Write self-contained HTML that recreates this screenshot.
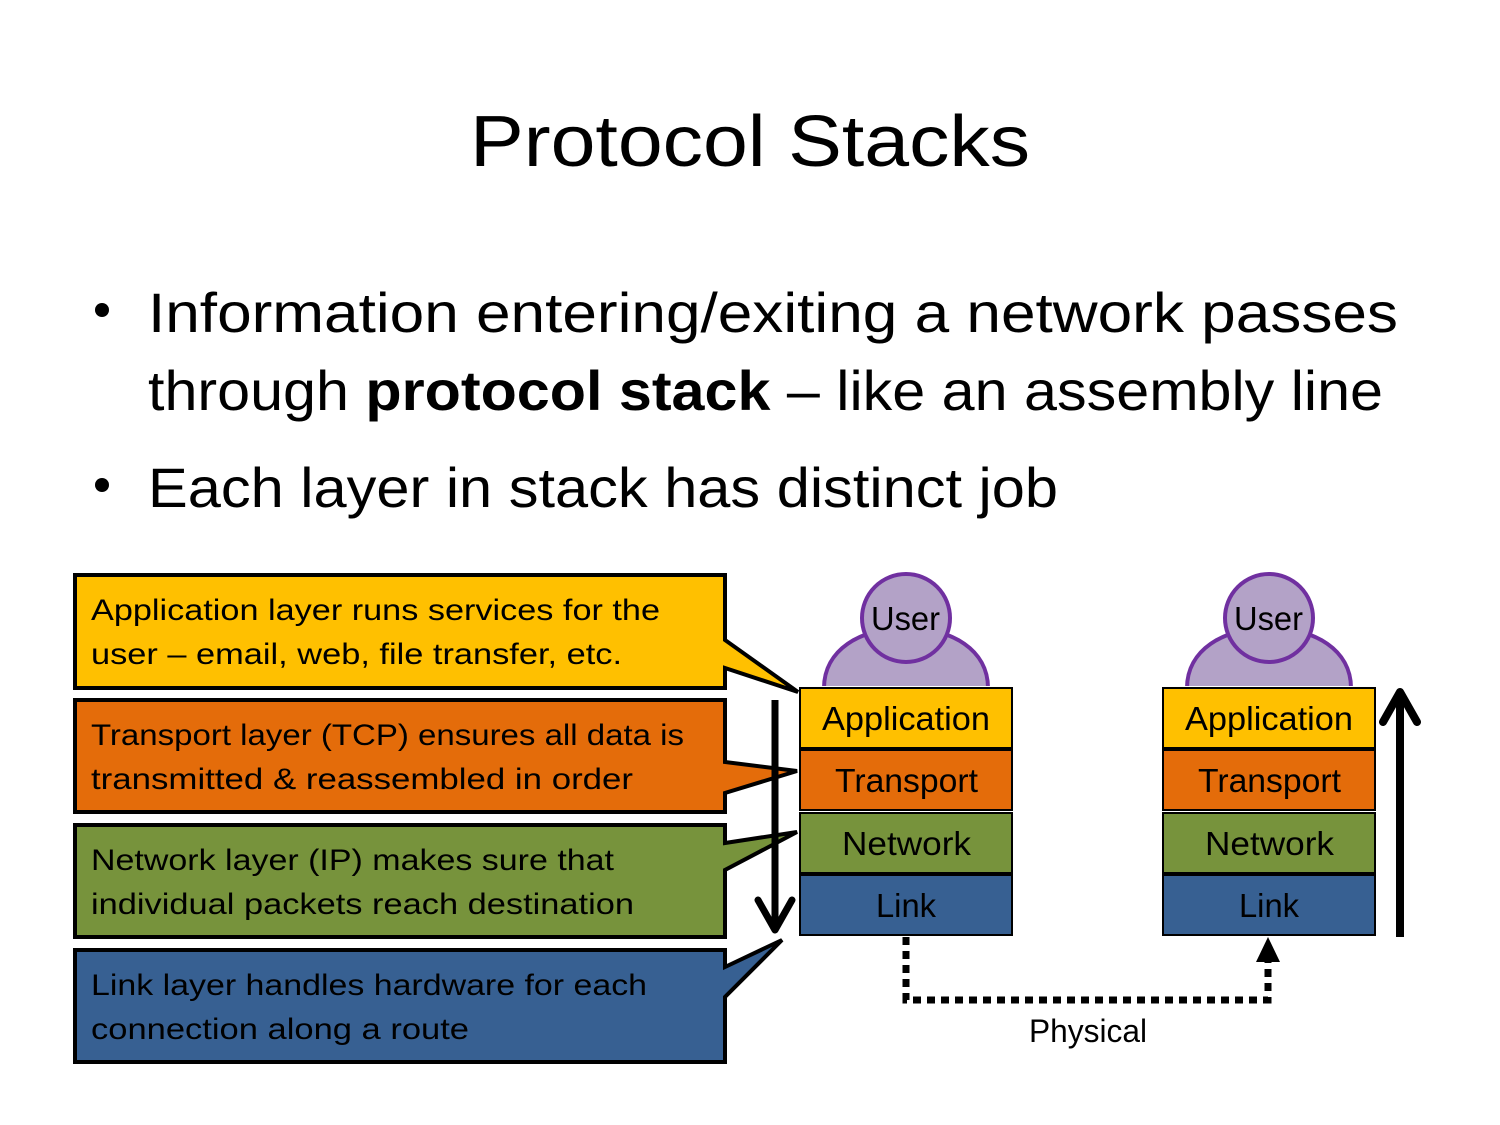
<!DOCTYPE html>
<html><head><meta charset="utf-8"><style>html,body{margin:0;padding:0;background:#fff}svg{display:block}</style></head>
<body>
<svg width="1500" height="1125" viewBox="0 0 1500 1125" xmlns="http://www.w3.org/2000/svg" font-family="'Liberation Sans', sans-serif">
<rect width="1500" height="1125" fill="#fff"/>
<text x="470" y="166" font-size="72" textLength="560" lengthAdjust="spacingAndGlyphs">Protocol Stacks</text>
<circle cx="102" cy="310" r="7" fill="#000"/>
<circle cx="102" cy="485" r="7" fill="#000"/>
<text x="148" y="332" font-size="56" textLength="1250" lengthAdjust="spacingAndGlyphs">Information entering/exiting a network passes</text>
<text x="148" y="410" font-size="56" textLength="1235" lengthAdjust="spacingAndGlyphs">through <tspan font-weight="bold">protocol stack</tspan> – like an assembly line</text>
<text x="148" y="507" font-size="56" textLength="910" lengthAdjust="spacingAndGlyphs">Each layer in stack has distinct job</text>

<g stroke="#000" stroke-width="4" stroke-linejoin="miter">
<path d="M75 575 H725 V640 L798 692 L725 668 V688 H75 Z" fill="#FFC000"/>
<path d="M75 700 H725 V762 L797 771 L725 793 V812 H75 Z" fill="#E46C0A"/>
<path d="M75 825 H725 V843 L797 832 L725 870 V937 H75 Z" fill="#77933C"/>
<path d="M75 950 H725 V967 L782 940 L725 997 V1062 H75 Z" fill="#376092"/>
</g>
<g font-size="30" fill="#000">
<text x="91" y="620" textLength="569" lengthAdjust="spacingAndGlyphs">Application layer runs services for the</text>
<text x="91" y="664" textLength="531" lengthAdjust="spacingAndGlyphs">user – email, web, file transfer, etc.</text>
<text x="91" y="745" textLength="593" lengthAdjust="spacingAndGlyphs">Transport layer (TCP) ensures all data is</text>
<text x="91" y="789" textLength="542" lengthAdjust="spacingAndGlyphs">transmitted &amp; reassembled in order</text>
<text x="91" y="870" textLength="523" lengthAdjust="spacingAndGlyphs">Network layer (IP) makes sure that</text>
<text x="91" y="914" textLength="543" lengthAdjust="spacingAndGlyphs">individual packets reach destination</text>
<text x="91" y="995" textLength="556" lengthAdjust="spacingAndGlyphs">Link layer handles hardware for each</text>
<text x="91" y="1039" textLength="378" lengthAdjust="spacingAndGlyphs">connection along a route</text>
</g>

<line x1="775" y1="700" x2="775" y2="930" stroke="#000" stroke-width="7"/>
<polyline points="758,900 775,930 792,900" fill="none" stroke="#000" stroke-width="7" stroke-linecap="round" stroke-linejoin="round"/>
<line x1="1400" y1="937" x2="1400" y2="695" stroke="#000" stroke-width="8"/>
<polyline points="1383,722 1400,692 1417,722" fill="none" stroke="#000" stroke-width="8" stroke-linecap="round" stroke-linejoin="round"/>

<g stroke="#7030A0" stroke-width="4" fill="#B3A2C7">
<path d="M824 688 C824 650 860 628 906 628 C952 628 988 650 988 688 Z"/>
<circle cx="906" cy="618" r="44"/>
<path d="M1187 688 C1187 650 1223 628 1269 628 C1315 628 1351 650 1351 688 Z"/>
<circle cx="1269" cy="618" r="44"/>
</g>
<rect x="820" y="686" width="172" height="4" fill="#fff"/>
<rect x="1183" y="686" width="172" height="4" fill="#fff"/>
<text x="871" y="630" font-size="33" textLength="69" lengthAdjust="spacingAndGlyphs">User</text>
<text x="1234" y="630" font-size="33" textLength="69" lengthAdjust="spacingAndGlyphs">User</text>

<g stroke="#000" stroke-width="2">
<rect x="800" y="688" width="212" height="60" fill="#FFC000"/>
<rect x="800" y="750" width="212" height="60" fill="#E46C0A"/>
<rect x="800" y="813" width="212" height="60" fill="#77933C"/>
<rect x="800" y="875" width="212" height="60" fill="#376092"/>
<rect x="1163" y="688" width="212" height="60" fill="#FFC000"/>
<rect x="1163" y="750" width="212" height="60" fill="#E46C0A"/>
<rect x="1163" y="813" width="212" height="60" fill="#77933C"/>
<rect x="1163" y="875" width="212" height="60" fill="#376092"/>
</g>
<g font-size="33" lengthAdjust="spacingAndGlyphs">
<text x="822" y="730" textLength="168" lengthAdjust="spacingAndGlyphs">Application</text>
<text x="835" y="792" textLength="143" lengthAdjust="spacingAndGlyphs">Transport</text>
<text x="842" y="855" textLength="129" lengthAdjust="spacingAndGlyphs">Network</text>
<text x="876" y="917" textLength="60" lengthAdjust="spacingAndGlyphs">Link</text>
<text x="1185" y="730" textLength="168" lengthAdjust="spacingAndGlyphs">Application</text>
<text x="1198" y="792" textLength="143" lengthAdjust="spacingAndGlyphs">Transport</text>
<text x="1205" y="855" textLength="129" lengthAdjust="spacingAndGlyphs">Network</text>
<text x="1239" y="917" textLength="60" lengthAdjust="spacingAndGlyphs">Link</text>
</g>

<path d="M906 937 V1000 H1268 V962" fill="none" stroke="#000" stroke-width="7" stroke-dasharray="8,6"/>
<polygon points="1268,937 1256,962 1280,962" fill="#000"/>
<text x="1029" y="1042" font-size="32" textLength="118" lengthAdjust="spacingAndGlyphs">Physical</text>
</svg>
</body></html>
